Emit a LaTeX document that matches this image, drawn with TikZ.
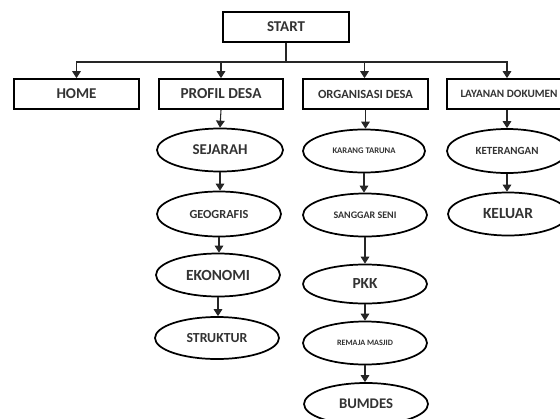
\documentclass[tikz,border=0pt]{standalone}
\usepackage{fontspec}
\setmainfont{Carlito}
\usepackage{graphicx}
\usetikzlibrary{shapes.geometric,arrows.meta}
\newlength{\px}
\setlength{\px}{0.75pt}
\newcommand{\tw}[2]{\resizebox{#1\px}{!}{\bfseries #2}}
\definecolor{txt}{HTML}{333333}
\begin{document}
\begin{tikzpicture}[x=0.75pt,y=-0.75pt,
  box/.style={draw=black,line width=1.3pt,minimum width=124\px,minimum height=30\px,inner sep=0pt,text=txt},
  oval/.style={draw=black,ellipse,line width=1.3pt,minimum width=124\px,minimum height=43\px,inner sep=0pt,text=txt},
  con/.style={draw=black!85,line width=0.8pt},
  arr/.style={con,-{Triangle[length=5.25pt,width=6.5pt]}}]
\useasboundingbox (0,0) rectangle (560,418);
\fill[white] (0,0) rectangle (560,418);
\node[box,minimum width=126\px] (start) at (286,27) {\tw{38}{START}};
\node[box,minimum width=125\px] (home) at (76.5,94) {\tw{40}{HOME}};
\node[box] (profil) at (221,94) {\tw{81}{PROFIL DESA}};
\node[box,minimum width=125\px] (org) at (365.5,94) {\tw{95}{ORGANISASI DESA}};
\node[box] (lay) at (509,94) {\tw{97}{LAYANAN DOKUMEN}};
\node[oval,minimum width=126\px] (sej) at (220,150) {\tw{55}{SEJARAH}};
\node[oval,minimum height=45\px] (geo) at (219,214) {\tw{59}{GEOGRAFIS}};
\node[oval] (eko) at (218,275) {\tw{64}{EKONOMI}};
\node[oval,minimum height=42\px] (str) at (217,338) {\tw{61}{STRUKTUR}};
\node[oval,minimum width=122\px] (kar) at (364,151) {\tw{63}{KARANG TARUNA}};
\node[oval] (san) at (365,215) {\tw{63}{SANGGAR SENI}};
\node[oval,minimum height=39\px] (pkk) at (365,284) {\tw{25}{PKK}};
\node[oval] (rem) at (365,343) {\tw{56}{REMAJA MASJID}};
\node[oval,minimum height=42\px] (bum) at (366,404) {\tw{54}{BUMDES}};
\node[oval,minimum width=120\px,minimum height=44\px] (ket) at (507,151) {\tw{63}{KETERANGAN}};
\node[oval,minimum width=120\px] (kel) at (508,214) {\tw{50}{KELUAR}};
\coordinate (bus) at (286,62);
\draw[con] (start.south) -- (bus);
\draw[arr] (bus) -| (home.north);
\draw[arr] (bus) -| (profil.north);
\draw[arr] (bus) -| ([xshift=-1\px]org.north);
\draw[arr] (bus) -| ([xshift=-2\px]lay.north);
\draw[arr] (profil.south) -- (sej.north);
\draw[arr] (sej.south) -- (sej.south |- geo.north);
\draw[arr] (geo.south) -- (geo.south |- eko.north);
\draw[arr] (eko.south) -- (eko.south |- str.north);
\draw[arr] (org.south) -- (org.south |- kar.north);
\draw[arr] (kar.south) -- (kar.south |- san.north);
\draw[arr] (san.south) -- (san.south |- pkk.north);
\draw[arr] (pkk.south) -- (pkk.south |- rem.north);
\draw[arr] (rem.south) -- (rem.south |- bum.north);
\draw[arr] ([xshift=-2\px]lay.south) -- ([xshift=-2\px]lay.south |- ket.north);
\draw[arr] (ket.south) -- (ket.south |- kel.north);
\end{tikzpicture}
\end{document}
